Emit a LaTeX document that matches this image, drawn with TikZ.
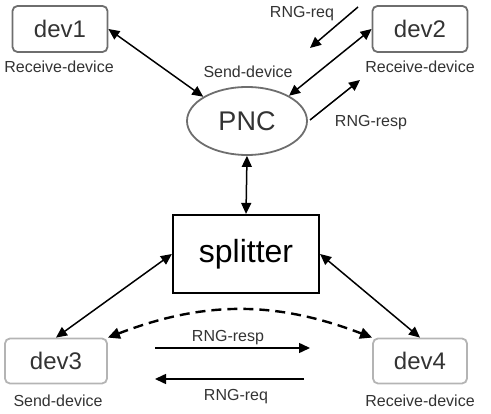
\documentclass[tikz,border=0pt]{standalone}
\usepackage{fontspec}
\setmainfont{Liberation Sans}
\usetikzlibrary{arrows.meta,shapes.geometric}
\definecolor{boxgray}{HTML}{6E6E6E}
\definecolor{lightgray}{HTML}{B4B4B4}
\definecolor{txtgray}{HTML}{333333}
\tikzset{
  devbox/.style={draw=boxgray, line width=1.8pt, rounded corners=5pt, minimum width=95pt, minimum height=46pt, inner sep=0pt, font=\fontsize{24}{26}\selectfont, text=txtgray},
  devboxlight/.style={devbox, draw=lightgray},
  lbl/.style={font=\fontsize{16}{18}\selectfont, text=txtgray, inner sep=0pt},
  conn/.style={line width=1.5pt, {Triangle[length=11pt,width=10pt]}-{Triangle[length=11pt,width=10pt]}},
  oneway/.style={line width=1.5pt, -{Triangle[length=11pt,width=10pt]}},
  dashconn/.style={line width=2.4pt, dash pattern=on 10pt off 6pt, {Triangle[length=12pt,width=11pt,sep=0pt]}-{Triangle[length=12pt,width=11pt]}}
}
\begin{document}
\begin{tikzpicture}[x=1pt,y=-1pt]
\useasboundingbox (0,0) rectangle (491,414);
% nodes
\node[devbox] (dev1) at (60,29) {dev1};
\node[devbox] (dev2) at (420,29) {dev2};
\node[devboxlight, minimum width=102pt, minimum height=45pt] (dev3) at (56,361) {dev3};
\node[devboxlight, minimum width=94pt, minimum height=45pt] (dev4) at (420,361) {dev4};
\node[ellipse, draw=boxgray, line width=1.8pt, minimum width=120pt, minimum height=68pt, inner sep=0pt, font=\fontsize{27}{29}\selectfont, text=txtgray] (pnc) at (247,121) {PNC};
\node[draw=black, line width=2.2pt, minimum width=146pt, minimum height=78pt, inner sep=0pt, font=\fontsize{32}{34}\selectfont] (splitter) at (246,254) {splitter};
% labels
\node[lbl] (l1) at (59,67) {Receive-device};
\node[lbl] (l2) at (420,67) {Receive-device};
\node[lbl] (l3) at (248,72) {Send-device};
\node[lbl] (l4) at (58,401) {Send-device};
\node[lbl] (l5) at (420,401) {Receive-device};
\node[lbl] (l6) at (302,14) {RNG-req};
\node[lbl] (l7) at (371,123) {RNG-resp};
\node[lbl] (l8) at (228,338) {RNG-resp};
\node[lbl] (l9) at (236,397) {RNG-req};
% free-end coordinates
\coordinate (rqa) at (358,7);
\coordinate (rqb) at (310,48);
\coordinate (rsa) at (310,120);
\coordinate (rsb) at (360,80);
\coordinate (bra) at (155,348);
\coordinate (brb) at (310,348);
\coordinate (bqa) at (304,379);
\coordinate (bqb) at (155,379);
% connectors
\draw[conn] (dev1.east) -- (pnc.151);
\draw[conn] (dev2.west) -- (pnc.31);
\draw[conn] (pnc.south) -- (splitter.north);
\draw[conn] (splitter.west) -- (dev3.north);
\draw[conn] (splitter.east) -- (dev4.north);
\draw[dashconn] (dev3.north east) to[bend left=21] (dev4.north west);
\draw[oneway] (rqa) -- (rqb);
\draw[oneway] (rsa) -- (rsb);
\draw[oneway] (bra) -- (brb);
\draw[oneway] (bqa) -- (bqb);
\end{tikzpicture}
\end{document}
